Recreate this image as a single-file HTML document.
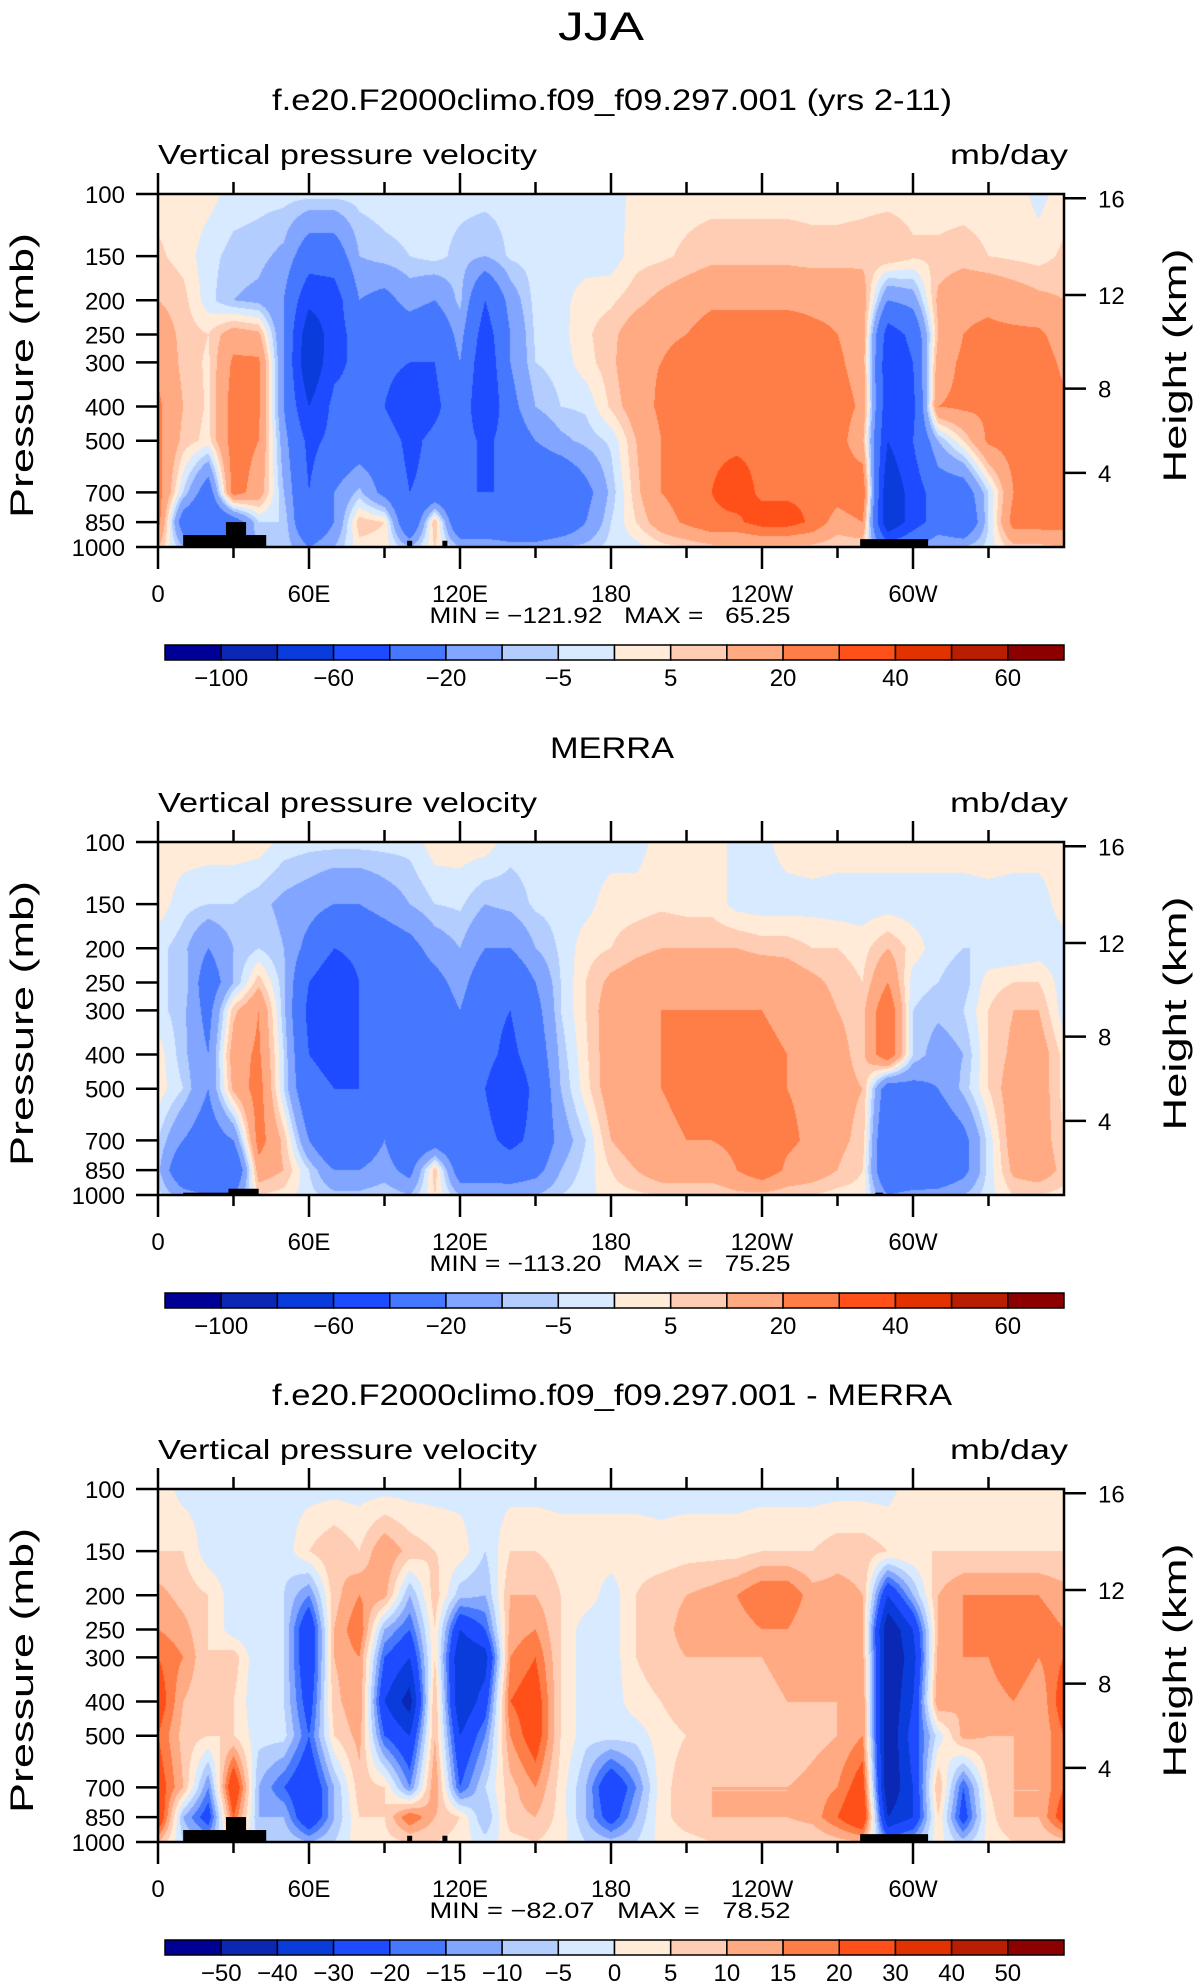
<!DOCTYPE html>
<html><head><meta charset="utf-8">
<style>
html,body{margin:0;padding:0;background:#fff;}
body{width:1203px;height:1987px;position:relative;overflow:hidden;font-family:"Liberation Sans",sans-serif;}
canvas{position:absolute;}
svg{position:absolute;left:0;top:0;}
</style></head>
<body>
<canvas id="c0" width="906" height="353" style="left:158px;top:194px"></canvas>
<canvas id="c1" width="906" height="352" style="left:158px;top:842px"></canvas>
<canvas id="c2" width="906" height="352" style="left:158px;top:1489px"></canvas>
<svg id="ov" width="1203" height="1987"></svg>
<script>
const lons=[0,10,20,30,40,50,60,70,80,90,100,110,120,130,140,150,160,170,180,190,200,210,220,230,240,250,260,270,280,290,300,310,320,330,340,350,360];
const levels=[100,150,200,250,300,400,500,700,850,1000];
const model=[
[3,3,2,-2,-3,-3,-3,-3,-3,-2,-2,-3,-3,-3,-3,-3,-3,-3,-3,2,3,3,3,3,3,3,3,3,3,3,3,3,3,3,3,-2,3],
[6,3,-3,-7,-8,-12,-30,-30,-10,-7,-5,-3,-7,-10,-4,-3,-3,-3,-3,3,4,6,8,8,8,8,7,7,8,10,6,6,7,5,4,3,6],
[10,7,-3,-10,-12,-20,-55,-50,-20,-25,-15,-20,-8,-40,-15,-3,-2,3,4,8,12,15,18,18,18,18,18,18,15,-20,-15,12,18,18,15,12,10],
[15,8,5,15,12,-20,-75,-50,-30,-30,-30,-35,-15,-50,-20,-4,-2,4,8,15,18,20,25,25,25,25,22,20,15,-50,-35,10,20,22,22,22,15],
[18,8,4,22,22,-20,-80,-45,-35,-35,-40,-40,-20,-55,-20,-5,-3,3,8,18,20,24,28,28,28,28,25,22,15,-55,-40,15,22,25,22,25,18],
[22,10,4,25,22,-20,-60,-35,-35,-40,-55,-45,-25,-60,-25,-10,-5,-4,6,15,22,25,28,28,28,28,28,25,18,-55,-45,20,22,22,25,25,22],
[22,8,3,25,20,-15,-45,-35,-30,-30,-45,-35,-30,-45,-30,-20,-12,-8,-4,10,20,25,28,28,28,28,28,25,12,-60,-40,-10,5,22,25,25,22],
[25,-5,-30,25,15,-10,-40,-20,-8,-25,-40,-35,-40,-40,-40,-40,-40,-25,-8,8,20,25,30,35,28,28,28,25,30,-80,-50,-30,-30,-5,20,28,25],
[25,-30,-40,-30,-5,-5,-40,-20,8,5,-40,10,-40,-40,-40,-40,-35,-20,-5,5,15,22,28,28,35,35,28,15,20,-80,-50,-30,-40,-5,25,25,25],
[10,-10,-20,-20,-10,-5,-20,-10,3,3,-10,5,-10,-10,-15,-15,-10,-8,-3,-2,3,5,8,8,8,8,8,5,5,-30,-20,-10,-10,-3,8,8,10]];
const merra=[
[3,3,3,3,3,-2,-3,-3,-3,-3,-3,3,3,3,-3,-3,-3,-3,-3,-3,3,3,3,-2,-2,3,3,3,3,3,3,3,3,3,3,3,3],
[3,-3,-5,-5,-8,-12,-15,-20,-20,-15,-10,-5,-4,-10,-8,-4,-3,-2,3,3,4,3,3,-2,-3,-3,-2,-3,-3,-3,-3,-3,-3,-2,-3,-3,3],
[-3,-8,-20,-10,-5,-10,-25,-40,-35,-30,-25,-15,-10,-20,-20,-10,-4,3,5,8,10,10,10,10,8,8,5,5,3,10,3,-3,-5,-5,-5,-3,-3],
[-5,-5,-30,-10,8,-8,-40,-55,-40,-35,-30,-25,-15,-30,-35,-20,-5,5,12,15,18,18,18,18,18,15,12,8,5,20,-3,-5,-8,3,5,5,-3],
[-3,-8,-25,8,20,-8,-45,-55,-40,-35,-30,-30,-20,-35,-40,-25,-5,5,15,18,20,20,20,20,20,18,15,10,8,30,-5,-8,-5,5,10,10,-3],
[3,-8,-20,15,22,-5,-40,-45,-40,-30,-35,-35,-25,-35,-45,-30,-8,4,15,18,20,20,22,22,22,20,18,12,8,30,-5,-15,-10,5,12,15,3],
[3,-5,-20,12,25,-5,-35,-40,-40,-30,-40,-40,-30,-40,-55,-35,-10,3,15,18,20,22,22,28,25,20,18,12,10,-30,-25,-20,-8,5,15,15,3],
[-5,-20,-30,-20,25,8,-20,-40,-30,-20,-35,-30,-35,-35,-45,-35,-15,-5,10,15,18,20,20,22,28,22,18,12,8,-40,-40,-35,-25,-3,15,15,5],
[-8,-35,-40,-40,15,10,-5,-20,-20,-15,-25,8,-30,-30,-30,-25,-10,-3,5,10,15,15,15,20,28,18,15,10,5,-40,-40,-35,-25,-3,12,15,8],
[-3,-15,-20,-20,5,3,-3,-8,-8,-5,-10,5,-10,-10,-12,-10,-5,-2,3,4,5,5,5,8,8,6,5,3,3,-20,-15,-15,-10,-2,5,5,3]];
const diff=[
[3,-2,-2,-2,-3,-2,-2,-2,-2,-2,-2,-2,-2,-2,-2,-2,-2,-2,-2,-2,-2,-2,-2,-2,-2,-2,-2,-2,-2,-2,3,3,3,3,3,3,3],
[5,5,-3,-4,-3,-3,5,10,5,15,8,5,3,-5,5,5,3,3,3,3,2,3,3,3,5,5,5,8,8,5,5,5,5,5,5,5,5],
[12,8,5,-3,-4,-5,-15,8,15,12,-10,8,-8,-10,10,10,5,3,-3,5,8,10,12,15,20,20,12,12,10,-30,-10,10,15,15,15,15,12],
[15,12,5,-3,-5,-5,-30,10,20,-10,-20,5,-30,-20,12,15,5,-3,-3,5,8,12,12,12,15,15,10,12,10,-50,-30,10,15,15,15,18,15],
[20,15,5,8,-5,-5,-30,10,15,-20,-30,5,-40,-35,15,20,5,-3,-3,5,8,10,10,10,10,12,10,12,12,-50,-35,12,15,15,20,15,20],
[25,10,5,5,-5,-5,-25,8,15,-30,-45,10,-40,-25,20,25,5,-3,-3,3,5,8,8,8,8,10,10,10,15,-50,-30,15,10,12,15,10,25],
[20,8,5,5,-3,-3,-20,5,12,-20,-30,10,-30,-15,15,25,5,-3,-3,-3,3,5,5,5,5,5,8,10,15,-50,-25,-3,12,10,10,10,20],
[25,10,-15,30,-10,-20,-30,-10,8,5,-15,15,-20,-5,8,15,3,-10,-30,-15,3,8,10,10,10,10,12,15,25,-50,-30,10,-20,5,10,10,20],
[30,-10,-25,20,-10,-10,-30,-10,5,5,20,10,5,-10,8,10,3,-10,-25,-10,3,8,10,10,10,10,12,20,30,-40,-30,5,-25,3,10,10,25],
[10,-5,-10,5,-5,-5,-10,-5,3,3,5,5,3,-3,3,5,2,-5,-8,-5,2,3,5,5,5,5,5,8,10,-15,-10,3,-8,2,5,5,8]];
const boundsA=[-100,-80,-60,-40,-20,-10,-5,0,5,10,20,30,40,50,60];
const boundsB=[-50,-40,-30,-20,-15,-10,-5,0,5,10,15,20,30,40,50];
const labelsA=["-100","-60","-20","-5","5","20","40","60"];
const labelsB=["-50","-40","-30","-20","-15","-10","-5","0","5","10","15","20","30","40","50"];
const colors=["#000096","#0a28b4","#0a3cdc","#1e4bff","#4678ff","#82a5ff","#b4cdff","#d7eaff","#ffebd7","#ffcdb4","#ffaa82","#ff7d46","#ff5019","#e13200","#b91e00","#8c0000"];
const landModel=[[10,43,925],[27,35,850],[99,101,960],[113,115,960],[279,306,950]];
const landMerra=[[10,38,985],[28,40,960],[285,288,985]];
const minmax=[["-121.92","65.25"],["-113.20","75.25"],["-82.07","78.52"]];
const titles=["f.e20.F2000climo.f09_f09.297.001 (yrs 2-11)","MERRA","f.e20.F2000climo.f09_f09.297.001 - MERRA"];
const titleW=[680,124,680];

const PX=158,PW=906,PH=353;
const panelTops=[194,842,1489];
const NS="http://www.w3.org/2000/svg";
const ov=document.getElementById('ov');
function xOf(lon){return PX+lon/360*PW;}
function yOf(top,p){return top+Math.log10(p/100)*PH;}
function rgb(h){return [parseInt(h.slice(1,3),16),parseInt(h.slice(3,5),16),parseInt(h.slice(5,7),16)];}
const crgb=colors.map(rgb);
const logL=levels.map(p=>Math.log10(p/100));
function sample(data,lon,lf){
  let i=Math.min(Math.floor(lon/10),35);let fx=lon/10-i;
  let j=0;while(j<logL.length-2&&lf>logL[j+1])j++;
  let fy=(lf-logL[j])/(logL[j+1]-logL[j]);fy=Math.max(0,Math.min(1,fy));
  const a=data[j][i],b=data[j][i+1],c=data[j+1][i],d=data[j+1][i+1];
  return (a*(1-fx)+b*fx)*(1-fy)+(c*(1-fx)+d*fx)*fy;
}
function binOf(v,b){let k=0;while(k<b.length&&v>=b[k])k++;return k;}
function drawField(id,data,bounds){
  const cv=document.getElementById(id),ctx=cv.getContext('2d');
  const W=cv.width,H=cv.height,img=ctx.createImageData(W,H);
  for(let y=0;y<H;y++){const lf=(y+0.5)/PH;
    for(let x=0;x<W;x++){const v=sample(data,(x+0.5)/W*360,lf);
      const c=crgb[binOf(v,bounds)];const o=(y*W+x)*4;
      img.data[o]=c[0];img.data[o+1]=c[1];img.data[o+2]=c[2];img.data[o+3]=255;}}
  ctx.putImageData(img,0,0);
}
drawField('c0',model,boundsA);drawField('c1',merra,boundsA);drawField('c2',diff,boundsB);

function el(tag,attrs,txt){const e=document.createElementNS(NS,tag);for(const k in attrs)e.setAttribute(k,attrs[k]);if(txt!==undefined)e.textContent=txt;ov.appendChild(e);return e;}
function txt(x,y,s,size,anchor,extra){const t=el('text',Object.assign({x:x,y:y,'font-size':size,'text-anchor':anchor||'middle','font-family':'Liberation Sans, sans-serif',fill:'#000'},extra||{}),s);return t;}

let t=txt(601,40,"JJA",40,'middle',{textLength:86,lengthAdjust:'spacingAndGlyphs'});



const xlab=[[0,"0"],[60,"60E"],[120,"120E"],[180,"180"],[240,"120W"],[300,"60W"]];
const plab=[100,150,200,250,300,400,500,700,850,1000];
const hlab=[4,8,12,16];
function pOfZ(z){if(z<=11)return 1013.25*Math.pow(1-z/44.33,5.255);return 226.3*Math.exp(-(z-11)/6.34);}

panelTops.forEach((top,k)=>{
  t=txt(612,top-84,titles[k],30,'middle',{textLength:titleW[k],lengthAdjust:'spacingAndGlyphs'});
  
  
  t=txt(158,top-30,"Vertical pressure velocity",28,'start',{textLength:379,lengthAdjust:'spacingAndGlyphs'});
  
  
  t=txt(1068,top-30,"mb/day",28,'end',{textLength:118,lengthAdjust:'spacingAndGlyphs'});
  
  
  const land=(k===1)?landMerra:landModel;
  land.forEach(r=>{
    const rc=el('rect',{x:xOf(r[0]),y:yOf(top,r[2]),width:xOf(r[1])-xOf(r[0]),height:yOf(top,1000)-yOf(top,r[2]),fill:'#000'});
    
    
  });
  const fr=el('rect',{x:PX,y:top,width:PW,height:PH,fill:'none',stroke:'#000','stroke-width':2.5});
  
  
  for(let lon=0;lon<360;lon+=30){
    const major=lon%60===0,x=xOf(lon);
    el('line',{x1:x,x2:x,y1:top,y2:top-(major?21:12),stroke:'#000','stroke-width':2.5});
    el('line',{x1:x,x2:x,y1:top+PH,y2:top+PH+(major?22:11),stroke:'#000','stroke-width':2.5});
  }
  xlab.forEach(l=>{t=txt(xOf(l[0]),top+PH+55,l[1],24,'middle');
    
    });
  plab.forEach(p=>{const y=yOf(top,p);
    el('line',{x1:PX-22,x2:PX,y1:y,y2:y,stroke:'#000','stroke-width':2.5});
    t=txt(125,y+9,String(p),24,'end');
    
    });
  hlab.forEach(z=>{const y=yOf(top,pOfZ(z));
    el('line',{x1:PX+PW,x2:PX+PW+22,y1:y,y2:y,stroke:'#000','stroke-width':2.5});
    t=txt(1098,y+9,String(z),24,'start');
    
    });
  t=txt(0,0,"Pressure (mb)",32,'middle',{transform:`translate(33,${top+PH/2+5}) rotate(-90)`,textLength:285,lengthAdjust:'spacingAndGlyphs'});
  
  
  t=txt(0,0,"Height (km)",32,'middle',{transform:`translate(1186,${top+PH/2-5}) rotate(-90)`,textLength:234,lengthAdjust:'spacingAndGlyphs'});
  
  
  t=txt(610,top+PH+76,`MIN = ${minmax[k][0].replace('-','\u2212')}   MAX =   ${minmax[k][1]}`,22,'middle',{textLength:361,lengthAdjust:'spacingAndGlyphs',style:'white-space:pre'});
  
  
  const cbY=top+451,cbX=165,cbW=899,bw=cbW/16;
  colors.forEach((c,i)=>{const r=el('rect',{x:cbX+i*bw,y:cbY,width:bw,height:15,fill:c,stroke:'#000','stroke-width':1.5});
    
    });
  if(k<2){labelsA.forEach((s,i)=>{t=txt(cbX+(2*i+1)*bw,cbY+41,s.replace('-','\u2212'),24,'middle');
      
      });}
  else{labelsB.forEach((s,i)=>{t=txt(cbX+(i+1)*bw,cbY+41,s.replace('-','\u2212'),24,'middle');
      
      });}
});
</script>
</body></html>
